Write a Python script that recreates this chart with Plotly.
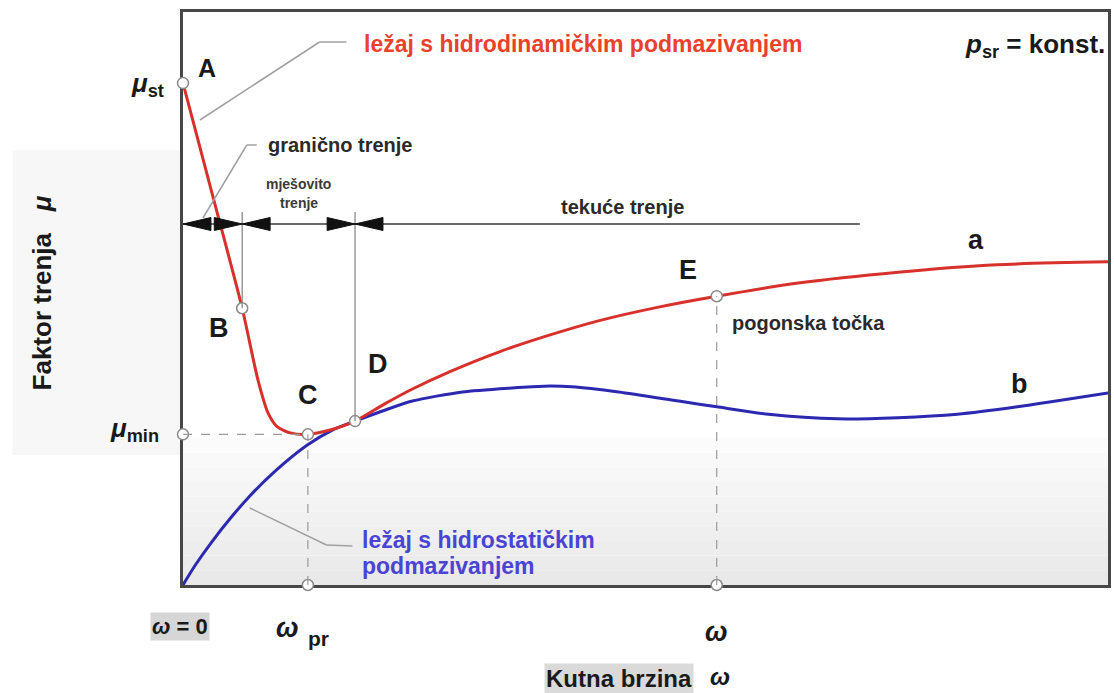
import plotly.graph_objects as go

# krivulja a - ležaj s hidrodinamičkim podmazivanjem (Stribeckova krivulja)
omega_a = [0.0, 0.32, 0.64, 0.81, 0.92, 1.02, 1.17, 1.35, 1.58, 1.86, 2.18, 2.48,
           2.88, 3.42, 3.96, 4.49, 5.14, 5.77, 6.65, 7.73, 8.80, 10.0]
mu_a = [8.76, 6.80, 4.83, 3.58, 3.00, 2.76, 2.65, 2.63, 2.70, 2.86, 3.16, 3.42,
        3.72, 4.07, 4.36, 4.61, 4.85, 5.04, 5.27, 5.46, 5.59, 5.64]

# krivulja b - ležaj s hidrostatičkim podmazivanjem
omega_b = [0.0, 0.13, 0.31, 0.51, 0.72, 0.99, 1.34, 1.61, 1.86, 2.18, 2.48, 3.02,
           3.56, 3.90, 4.20, 4.71, 5.36, 5.77, 6.33, 7.08, 7.73, 8.37, 9.02, 10.0]
mu_b = [0.0, 0.34, 0.75, 1.16, 1.55, 1.98, 2.44, 2.70, 2.86, 3.05, 3.21, 3.37,
        3.44, 3.47, 3.46, 3.37, 3.21, 3.11, 2.98, 2.90, 2.92, 2.98, 3.11, 3.35]

# karakteristične točke
point_names = ["A", "B", "C", "D", "E"]
point_omega = [0.0, 0.64, 1.35, 1.86, 5.77]
point_mu = [8.76, 4.83, 2.63, 2.86, 5.04]

# raspon osi i položaj područja crtanja u pikselima
X_MAX, Y_MAX = 10.0, 10.0
L, R, T, B = 183, 1111, 12, 585


def px2x(px):
    return (px - L) / (R - L) * X_MAX


def px2y(py):
    return (B - py) / (B - T) * Y_MAX


FONT = "Liberation Sans, Arial, sans-serif"
RED = "#d8302a"
BLUE = "#2c28b0"
GUIDE = "#9a9a9a"

fig = go.Figure()

# lagani sivi gradijent u donjem dijelu dijagrama
shapes = []
n_steps = 10
top_px, bot_px = 438, 585
for i in range(n_steps):
    y0 = top_px + (bot_px - top_px) * i / n_steps
    y1 = top_px + (bot_px - top_px) * (i + 1) / n_steps
    g = int(252 - 20 * (i + 0.5) / n_steps)
    shapes.append(dict(type="rect", xref="x", yref="y", x0=0, x1=X_MAX,
                       y0=px2y(y1), y1=px2y(y0), line_width=0,
                       fillcolor="rgb(%d,%d,%d)" % (g, g, g), layer="below"))
# sivkasta pozadina uz os y
shapes.append(dict(type="rect", xref="paper", yref="paper",
                   x0=(12 - L) / (R - L), x1=0, y0=(B - 455) / (B - T), y1=(B - 150) / (B - T),
                   line_width=0, fillcolor="#f7f7f7", layer="below"))

# pomoćne crtkane linije: mu_min i omega_pr (točka C), radna točka E
iC = point_names.index("C")
iE = point_names.index("E")
shapes.append(dict(type="line", x0=0, x1=point_omega[iC], y0=point_mu[iC], y1=point_mu[iC],
                   line=dict(color=GUIDE, width=1.2, dash="dash")))
for i in (iC, iE):
    shapes.append(dict(type="line", x0=point_omega[i], x1=point_omega[i], y0=0, y1=point_mu[i],
                       line=dict(color=GUIDE, width=1.2, dash="dash")))

# granice područja trenja (B i D)
sep_top = px2y(212)
for name in ("B", "D"):
    i = point_names.index(name)
    shapes.append(dict(type="line", x0=point_omega[i], x1=point_omega[i], y0=point_mu[i], y1=sep_top,
                       line=dict(color="#8a8a8a", width=1.3)))

# kotna linija sa strelicama
dim_y = px2y(224)
shapes.append(dict(type="line", x0=0, x1=px2x(862), y0=dim_y, y1=dim_y,
                   line=dict(color="#3a3a3a", width=1.3)))
head_len = px2x(L + 28)
head_h = (px2y(0) - px2y(6.5))
xB = point_omega[point_names.index("B")]
xD = point_omega[point_names.index("D")]
for tip, direction in [(0, -1), (xB, 1), (xB, -1), (xD, 1), (xD, -1)]:
    base = tip - direction * head_len
    path = "M %f,%f L %f,%f L %f,%f Z" % (tip, dim_y, base, dim_y + head_h, base, dim_y - head_h)
    shapes.append(dict(type="path", path=path, fillcolor="#111111", line=dict(color="#111111", width=1)))

# opisne linije (pokazivači)
leaders = [
    [(347, 42), (320, 42), (200, 120)],
    [(257, 145), (247, 145), (203, 218)],
    [(250, 508), (327, 545), (353, 546)],
]
for pts in leaders:
    for (ax_, ay_), (bx_, by_) in zip(pts[:-1], pts[1:]):
        shapes.append(dict(type="line", x0=px2x(ax_), y0=px2y(ay_), x1=px2x(bx_), y1=px2y(by_),
                           line=dict(color="#a0a0a0", width=1.5)))

# krivulje
fig.add_trace(go.Scatter(x=omega_b, y=mu_b, mode="lines", line=dict(color=BLUE, width=3, shape="spline", smoothing=0.7),
                         hoverinfo="skip"))
fig.add_trace(go.Scatter(x=omega_a, y=mu_a, mode="lines", line=dict(color=RED, width=3, shape="spline", smoothing=0.7),
                         hoverinfo="skip"))

# kružići na karakterističnim točkama i na osima
circ_x = point_omega + [0, point_omega[iC], point_omega[iE]]
circ_y = point_mu + [point_mu[iC], 0, 0]
fig.add_trace(go.Scatter(x=circ_x, y=circ_y, mode="markers", cliponaxis=False,
                         marker=dict(size=11, color="white", line=dict(color="#8a8a8a", width=1.5)),
                         hoverinfo="skip"))

ann = []


def text(px, py, s, size=20, color="#1a1a1a", xanchor="center", **kw):
    ann.append(dict(x=(px - L) / (R - L), y=(B - py) / (B - T), xref="paper", yref="paper",
                    text=s, showarrow=False, xanchor=xanchor, yanchor="middle",
                    font=dict(family=FONT, size=size, color=color), **kw))


text(166, 84, "<b><i>μ</i><sub>st</sub></b>", size=26, xanchor="right")
text(207, 68, "<b>A</b>", size=25)
text(584, 44, "<b>ležaj s hidrodinamičkim podmazivanjem</b>", size=23, color="#e8412c")
text(1110, 45, "<b><i>p</i><sub>sr</sub> = konst.</b>", size=26, xanchor="right")
text(266, 145, "<b>granično trenje</b>", size=20, color="#2a2a2a", xanchor="left")
text(299, 184, "<b>mješovito</b>", size=14, color="#3a3a3a")
text(299, 203, "<b>trenje</b>", size=14, color="#3a3a3a")
text(624, 207, "<b>tekuće trenje</b>", size=20, color="#2a2a2a")
text(219, 328, "<b>B</b>", size=27)
text(308, 395, "<b>C</b>", size=27)
text(379, 364, "<b>D</b>", size=27)
text(690, 270, "<b>E</b>", size=27)
text(979, 240, "<b>a</b>", size=27)
text(1022, 384, "<b>b</b>", size=27)
text(732, 323, "<b>pogonska točka</b>", size=20, color="#2a2a2a", xanchor="left")
text(361, 540, "<b>ležaj s hidrostatičkim</b>", size=23, color="#4a44d4", xanchor="left")
text(361, 566, "<b>podmazivanjem</b>", size=23, color="#4a44d4", xanchor="left")
text(161, 430, "<b><i>μ</i><sub>min</sub></b>", size=26, xanchor="right")
text(180, 626, "<b><i>ω</i> = 0</b>", size=22, bgcolor="#d6d6d6", borderpad=1)
text(288, 628, "<b><i>ω</i></b>", size=27)
text(319, 638, "<b>pr</b>", size=21)
text(718, 632, "<b><i>ω</i></b>", size=27)
text(620, 678, "<b>Kutna brzina</b>", size=24, bgcolor="#dadada", borderpad=1)
text(722, 676, "<b><i>ω</i></b>", size=24)
text(42, 293, "<b>Faktor trenja   <i>μ</i></b>", size=26, textangle=-90)

fig.update_layout(
    width=1114, height=693,
    margin=dict(l=L, r=1114 - R, t=T, b=693 - B),
    plot_bgcolor="white", paper_bgcolor="white",
    showlegend=False,
    shapes=shapes,
    annotations=ann,
    xaxis=dict(range=[0, X_MAX], showgrid=False, zeroline=False, showticklabels=False, ticks="",
               showline=True, linecolor="#474747", linewidth=3, mirror=True, layer="below traces"),
    yaxis=dict(range=[0, Y_MAX], showgrid=False, zeroline=False, showticklabels=False, ticks="",
               showline=True, linecolor="#474747", linewidth=3, mirror=True, layer="below traces"),
)

fig.write_html("out.html", config={"displayModeBar": False},
               post_script="document.body.style.margin='0px';")
